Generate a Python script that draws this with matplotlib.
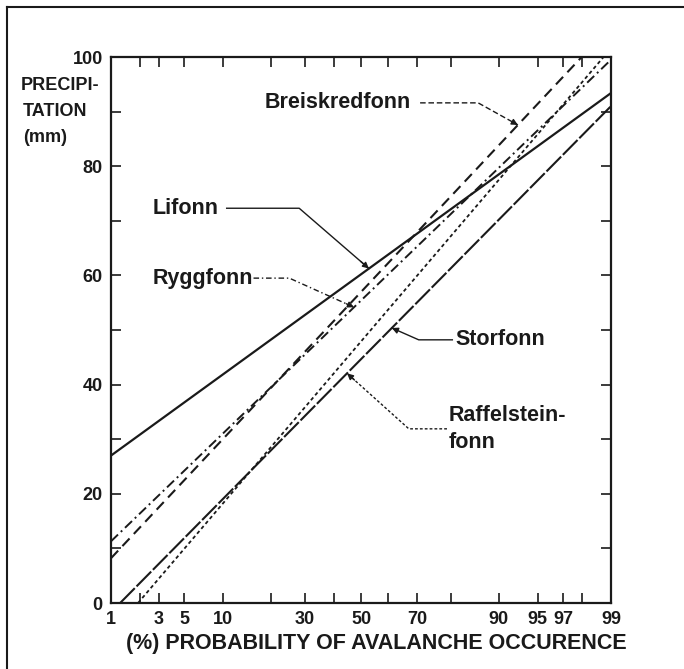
import matplotlib.pyplot as plt
from matplotlib.lines import Line2D
from statistics import NormalDist

# probability paper: x is plotted as the standard normal quantile of the percentage
_nd = NormalDist()


def probit(p):
    return [_nd.inv_cdf(v / 100.0) for v in p]


# end points of each straight line (probability %, precipitation mm)
lifonn_prob = [1, 99]
lifonn_mm = [27, 93.4]
breiskred_prob = [1, 98]
breiskred_mm = [8.2, 100]
rygg_prob = [1, 99]
rygg_mm = [11.3, 99.5]
storfonn_prob = [1.25, 99]
storfonn_mm = [0, 91]
raffel_prob = [1.9, 98.8]
raffel_mm = [0, 100]

tick_probs = [1, 2, 3, 5, 10, 20, 30, 40, 50, 60, 70, 80, 90, 95, 97, 98, 99]
label_probs = [1, 3, 5, 10, 30, 50, 70, 90, 95, 97, 99]
y_ticks = list(range(0, 101, 10))
y_labels = [0, 20, 40, 60, 80, 100]

plt.rcParams['font.family'] = ['Liberation Sans', 'DejaVu Sans']
plt.rcParams['font.weight'] = 'bold'
ink = '#1a1a1a'

fig = plt.figure(figsize=(6.84, 6.69), dpi=100, facecolor='white')
ax = fig.add_axes([111 / 684, 66 / 669, 500 / 684, 546 / 669])

ax.plot(probit(lifonn_prob), lifonn_mm, color=ink, lw=1.6, ls='-')
ax.plot(probit(breiskred_prob), breiskred_mm, color=ink, lw=1.5, ls=(0, (5, 3)))
ax.plot(probit(rygg_prob), rygg_mm, color=ink, lw=1.4, ls=(0, (5, 2, 1, 2)))
ax.plot(probit(storfonn_prob), storfonn_mm, color=ink, lw=1.5, ls=(0, (10, 1.2)))
ax.plot(probit(raffel_prob), raffel_mm, color=ink, lw=1.3, ls=(0, (2, 1.6)))

ax.set_xlim(probit([1, 99]))
ax.set_ylim(0, 100)

ax.set_xticks(probit(tick_probs))
ax.set_xticklabels([str(p) if p in label_probs else '' for p in tick_probs])
ax.set_yticks(y_ticks)
ax.set_yticklabels([str(v) if v in y_labels else '' for v in y_ticks])
ax.tick_params(direction='in', length=7, width=1.2, top=True, right=True,
               labelsize=13, colors=ink, pad=6)
for lab in ax.get_xticklabels() + ax.get_yticklabels():
    lab.set_fontweight('bold')
for sp in ax.spines.values():
    sp.set_linewidth(1.6)
    sp.set_color(ink)

ax.set_xlabel('(%) PROBABILITY OF AVALANCHE OCCURENCE', fontsize=15.5,
              fontweight='bold', color=ink)
ax.xaxis.set_label_coords(0.53, -0.055)

fig.text(21 / 684, 1 - 85 / 669, 'PRECIPI-', fontsize=13, fontweight='bold',
         color=ink, va='center', ha='left')
fig.text(23 / 684, 1 - 111 / 669, 'TATION', fontsize=13, fontweight='bold',
         color=ink, va='center', ha='left')
fig.text(23 / 684, 1 - 137 / 669, '(mm)', fontsize=13, fontweight='bold',
         color=ink, va='center', ha='left')


def on_line(prob, mm, zq):
    z0, z1 = probit(prob)
    return mm[0] + (mm[1] - mm[0]) * (zq - z0) / (z1 - z0)


def label(text, tx, ty, lead0, lead1, tip_z, prob, mm, ls):
    ax.text(tx, ty, text, fontsize=15.5, fontweight='bold', color=ink,
            va='center', ha='left', linespacing=1.35)
    tip = (tip_z, on_line(prob, mm, tip_z))
    ax.plot([lead0, lead1, tip[0]], [ty, ty, tip[1]], color=ink, lw=1.0, ls=ls)
    start = (tip[0] - 0.12 * (tip[0] - lead1), tip[1] - 0.12 * (tip[1] - ty))
    ax.annotate('', xy=tip, xytext=start,
                arrowprops=dict(arrowstyle='-|>', color=ink, lw=1.0,
                                mutation_scale=9, shrinkA=0, shrinkB=0))


label('Breiskredfonn', -0.899, 91.6, 0.55, 1.09, 1.46,
      breiskred_prob, breiskred_mm, (0, (4, 2)))
label('Lifonn', -1.937, 72.3, -1.25, -0.575, 0.074,
      lifonn_prob, lifonn_mm, '-')
label('Ryggfonn', -1.937, 59.5, -1.0, -0.667, -0.065,
      rygg_prob, rygg_mm, (0, (4, 2, 1, 2)))
label('Storfonn', 0.88, 48.2, 0.85, 0.537, 0.287,
      storfonn_prob, storfonn_mm, '-')
label('Raffelstein-\nfonn', 0.816, 31.9, 0.80, 0.445, -0.13,
      storfonn_prob, storfonn_mm, (0, (2, 1.5)))

# border of the sheet
fig.add_artist(Line2D([7 / 684, 7 / 684], [0, 1 - 7 / 669], color=ink, lw=1.5))
fig.add_artist(Line2D([7 / 684, 1], [1 - 7 / 669, 1 - 7 / 669], color=ink, lw=1.5))

fig.savefig('out.png', dpi=100, facecolor='white')
